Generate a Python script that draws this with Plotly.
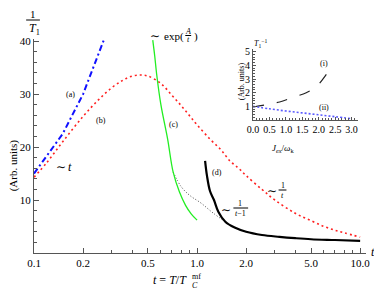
import plotly.graph_objects as go

# ---------------- data ----------------
t_a = [0.1, 0.15, 0.2, 0.25, 0.268]
y_a = [15.0, 22.5, 30.0, 37.5, 40.2]

t_b = [0.1, 0.12, 0.15, 0.2, 0.25, 0.3, 0.35, 0.4, 0.45, 0.5, 0.6, 0.7, 0.8, 0.9,
       1.0, 1.2, 1.4, 1.6, 1.8, 2.0, 2.5, 3.0, 4.0, 5.0, 6.0, 7.0, 8.0, 10.0]
y_b = [14.3, 17.1, 21.0, 25.8, 29.0, 31.2, 32.6, 33.4, 33.6, 33.4, 32.0, 29.8, 27.8, 25.9,
       24.2, 21.5, 19.5, 17.3, 16.0, 14.6, 12.0, 10.0, 7.5, 6.1, 5.0, 4.3, 3.8, 3.0]

t_c = [0.535, 0.55, 0.565, 0.6, 0.66, 0.713, 0.78, 0.85, 0.92, 1.0]
y_c = [40.2, 37.2, 33.8, 28.0, 21.5, 15.3, 11.5, 9.0, 7.4, 6.2]

t_dot = [0.713, 0.8, 0.9, 1.06, 1.26, 1.49]
y_dot = [15.3, 12.5, 10.9, 9.4, 7.5, 5.9]

t_d = [1.12, 1.15, 1.2, 1.27, 1.35, 1.49, 1.7, 2.0, 2.5, 3.2, 4.0, 5.0, 7.0, 10.0]
y_d = [17.4, 14.6, 11.7, 10.0, 7.8, 5.9, 4.8, 4.0, 3.4, 3.05, 2.8, 2.6, 2.45, 2.3]

x_tickvals = [0.1, 0.2, 0.5, 1.0, 2.0, 5.0, 10.0]
x_ticktext = ["0.1", "0.2", "0.5", "1.0", "2.0", "5.0", "10.0"]
x_minor = [0.3, 0.4, 0.6, 0.7, 0.8, 0.9, 3, 4, 6, 7, 8, 9]
y_tickvals = [10, 20, 30, 40]

# inset
j_i = [0.0, 0.36, 0.81, 1.17, 1.62, 1.92, 2.22, 2.43]
r_i = [0.95, 1.1, 1.32, 1.62, 2.0, 2.43, 3.3, 4.1]
j_ii = [0.0, 0.5, 1.0, 1.5, 2.0, 2.5, 3.0]
r_ii = [1.0, 0.82, 0.66, 0.52, 0.38, 0.24, 0.1]
inset_xticks = [0.0, 0.5, 1.0, 1.5, 2.0, 2.5, 3.0]
inset_xtext = ["0.0", "0.5", "1.0", "1.5", "2.0", "2.5", "3.0"]
inset_yticks = [1, 2, 3, 4, 5]

# ---------------- figure ----------------
# page body has an 8px margin; the figure is sized so it fills the window exactly
OFF = 8
W, H = 382 - OFF, 290 - OFF
L, R, T, B = 30 - OFF, 14, 39 - OFF, 37
PW, PH = W - L - R, H - T - B
FONT = "Liberation Serif, Times New Roman, serif"
TILDE_FONT = "DejaVu Serif, DejaVu Sans, serif"


def P(px, py):
    """window pixel -> paper coords"""
    fx, fy = px - OFF, py - OFF
    return (fx - L) / PW, (H - B - fy) / PH


fig = go.Figure()
fig.add_trace(go.Scatter(x=t_b, y=y_b, mode="lines", line=dict(color="#ff2020", width=1.6, dash="2px,3px", shape="spline")))
fig.add_trace(go.Scatter(x=t_a, y=y_a, mode="lines", line=dict(color="#1010ff", width=2, dash="6px,3px,2px,3px")))
fig.add_trace(go.Scatter(x=t_dot, y=y_dot, mode="lines", line=dict(color="#444444", width=1, dash="1px,2px", shape="spline")))
fig.add_trace(go.Scatter(x=t_c, y=y_c, mode="lines", line=dict(color="#22ee22", width=1.3, shape="spline")))
fig.add_trace(go.Scatter(x=t_d, y=y_d, mode="lines", line=dict(color="black", width=2.2, shape="spline")))

fig.add_trace(go.Scatter(x=j_i, y=r_i, xaxis="x2", yaxis="y2", mode="lines",
                         line=dict(color="#222222", width=1.2, dash="11px,13px", shape="spline")))
fig.add_trace(go.Scatter(x=j_ii, y=r_ii, xaxis="x2", yaxis="y2", mode="lines",
                         line=dict(color="#5a5aff", width=1.6, dash="2px,2px", shape="spline")))

axis_common = dict(showline=True, linecolor="#555555", linewidth=1, ticks="inside",
                   tickcolor="#555555", showgrid=False, zeroline=False,
                   tickfont=dict(family=FONT, size=11, color="black"))
inset_common = {**axis_common, "tickfont": dict(family=FONT, size=10, color="black")}

x0, _ = P(253, 0)
x1, _ = P(360, 0)
_, y0 = P(0, 120)
_, y1 = P(0, 49)

fig.update_layout(
    width=W, height=H, margin=dict(l=L, r=R, t=T, b=B),
    paper_bgcolor="white", plot_bgcolor="white", showlegend=False,
    xaxis=dict(type="log", range=[-1, 1.036], tickvals=x_tickvals, ticktext=x_ticktext, ticklen=5,
               minor=dict(tickvals=x_minor, ticks="inside", ticklen=3, tickcolor="#555555"),
               **axis_common),
    yaxis=dict(range=[0, 40.4], tickvals=y_tickvals, ticklen=5,
               minor=dict(dtick=2, tick0=0, ticks="inside", ticklen=3, tickcolor="#555555"),
               **axis_common),
    xaxis2=dict(domain=[x0, x1], anchor="y2", range=[0, 3.2], tickvals=inset_xticks, ticktext=inset_xtext,
                ticklen=3, minor=dict(dtick=0.1, tick0=0, ticks="inside", ticklen=2, tickcolor="#555555"),
                **inset_common),
    yaxis2=dict(domain=[y0, y1], anchor="x2", range=[0, 5.2], tickvals=inset_yticks, ticklen=3,
                minor=dict(dtick=0.2, tick0=0, ticks="inside", ticklen=2, tickcolor="#555555"),
                **inset_common),
)

annots = [
    # (text, px, py, size, xanchor, textangle, font)  -- positions in window pixels
    ("1", 29, 14, 11, "center", 0, FONT),
    ("<i>T</i><sub>1</sub>", 30, 29, 12, "center", 0, FONT),
    ("(Arb. units)", 9, 165, 11, "center", -90, FONT),
    ("<i>t</i> = <i>T</i>/<i>T</i>", 188, 280, 12, "right", 0, FONT),
    ("mf", 189, 276, 8, "left", 0, FONT),
    ("<i>C</i>", 189, 285, 8, "left", 0, FONT),
    ("<i>t</i>", 375, 252, 12, "center", 0, FONT),
    ("(a)", 67, 94, 8, "center", 0, FONT),
    ("(b)", 98, 120, 8, "center", 0, FONT),
    ("∼", 57, 167, 12, "center", 0, TILDE_FONT),
    ("<i>t</i>", 67, 167, 12, "center", 0, FONT),
    ("(c)", 172, 124, 8, "center", 0, FONT),
    ("(d)", 216, 172, 8, "center", 0, FONT),
    ("∼", 153, 36, 12, "center", 0, TILDE_FONT),
    ("exp(", 160, 36, 11, "left", 0, FONT),
    ("<i>A</i>", 187, 31, 8, "center", 0, FONT),
    ("<i>t</i>", 187, 40, 8, "center", 0, FONT),
    (")", 191, 36, 11, "left", 0, FONT),
    ("∼", 272, 191, 12, "center", 0, TILDE_FONT),
    ("1", 283, 185, 8, "center", 0, FONT),
    ("<i>t</i>", 283, 195, 8, "center", 0, FONT),
    ("∼", 225, 210, 12, "center", 0, TILDE_FONT),
    ("1", 240, 203, 8, "center", 0, FONT),
    ("<i>t</i>−1", 240, 213, 8, "center", 0, FONT),
    ("<i>T</i><sub>1</sub><sup>−1</sup>", 261, 44, 8, "center", 0, FONT),
    ("(Arb. units)", 241, 81, 8, "center", -90, FONT),
    ("<i>J</i><sub><i>ex</i></sub>/<i>ω</i><sub>k</sub>", 283, 148, 9, "center", 0, FONT),
    ("(i)", 325, 63, 8, "center", 0, FONT),
    ("(ii)", 325, 107, 8, "center", 0, FONT),
]
for text, px, py, size, xa, ang, fam in annots:
    xp, yp = P(px, py)
    fig.add_annotation(x=xp, y=yp, xref="paper", yref="paper", text=text, showarrow=False,
                       xanchor=xa, yanchor="middle", textangle=ang,
                       font=dict(family=fam, size=size, color="black"))

bars = [(22, 36, 20), (184, 190, 35.5), (279, 287, 190), (233, 248, 208)]
for xa_, xb_, yy in bars:
    p0 = P(xa_, yy)
    p1 = P(xb_, yy)
    fig.add_shape(type="line", xref="paper", yref="paper", x0=p0[0], y0=p0[1], x1=p1[0], y1=p1[1],
                  line=dict(color="black", width=1))

fig.write_html("out.html")
